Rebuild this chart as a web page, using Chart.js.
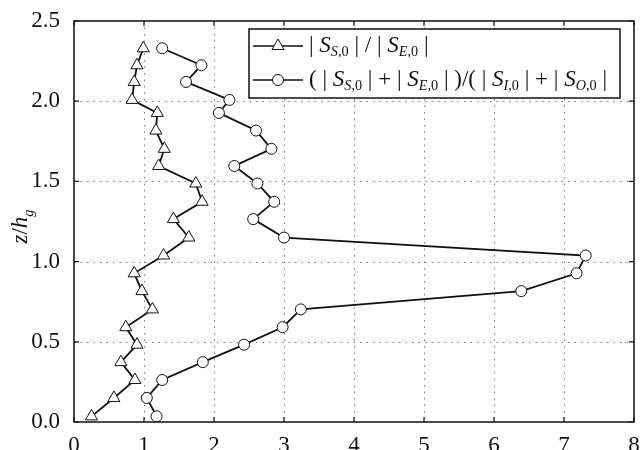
<!DOCTYPE html>
<html>
<head>
<meta charset="utf-8">
<script src="https://cdn.jsdelivr.net/npm/chart.js@4"></script>
<style>
  html, body { margin: 0; padding: 0; background: #fff; }
  #wrap { width: 644px; height: 450px; position: relative; }
  #chart { position: absolute; left: 0; top: 0; }
  .preload { position: absolute; left: 0; top: 0; color: transparent;
             font: 23px "Liberation Serif"; white-space: nowrap; }
</style>
</head>
<body>
<div id="wrap">
  <div class="preload">2.5 z/h <i>S z/h g</i></div>
  <canvas id="chart" width="644" height="450"></canvas>
</div>
<script>
// heights z/h_g shared by both profiles
const zLevels = [0.035, 0.15, 0.262, 0.373, 0.482, 0.591, 0.702, 0.816, 0.927, 1.038, 1.15,
                 1.265, 1.373, 1.487, 1.596, 1.703, 1.817, 1.927, 2.008, 2.12, 2.224, 2.33];
// |S_S,0| / |S_E,0|
const ratioSE = [0.25, 0.57, 0.87, 0.67, 0.90, 0.74, 1.12, 0.97, 0.86, 1.28, 1.64,
                 1.42, 1.83, 1.74, 1.21, 1.29, 1.17, 1.19, 0.83, 0.86, 0.90, 0.99];
// (|S_S,0|+|S_E,0|)/(|S_I,0|+|S_O,0|)
const ratioSum = [1.18, 1.04, 1.26, 1.84, 2.43, 2.98, 3.24, 6.39, 7.18, 7.31, 3.0,
                  2.56, 2.86, 2.62, 2.29, 2.82, 2.6, 2.07, 2.22, 1.6, 1.82, 1.26];
const xTicks = [0, 1, 2, 3, 4, 5, 6, 7, 8];
const yTicks = [0, 0.5, 1.0, 1.5, 2.0, 2.5];

// legend labels as rich text segments (i = italic, s = subscript)
const legendLabels = [
  [{t: '| '}, {t: 'S', i: 1}, {t: 'S', i: 1, s: 1}, {t: ',0', s: 1}, {t: ' | / | '},
   {t: 'S', i: 1}, {t: 'E', i: 1, s: 1}, {t: ',0', s: 1}, {t: ' |'}],
  [{t: '( | '}, {t: 'S', i: 1}, {t: 'S', i: 1, s: 1}, {t: ',0', s: 1}, {t: ' | + | '},
   {t: 'S', i: 1}, {t: 'E', i: 1, s: 1}, {t: ',0', s: 1}, {t: ' | )/( | '},
   {t: 'S', i: 1}, {t: 'I', i: 1, s: 1}, {t: ',0', s: 1}, {t: ' | + | '},
   {t: 'S', i: 1}, {t: 'O', i: 1, s: 1}, {t: ',0', s: 1}, {t: ' |'}]
];
const yTitle = [{t: 'z', i: 1}, {t: '/'}, {t: 'h', i: 1}, {t: 'g', i: 1, s: 1}];

const FONT = '"Liberation Serif"';

function drawRich(ctx, x, y, segs, size) {
  let cx = x;
  segs.forEach(sg => {
    const sz = sg.s ? size * 0.62 : size;
    ctx.font = (sg.i ? 'italic ' : '') + sz + 'px ' + FONT;
    ctx.fillText(sg.t, cx, sg.s ? y + size * 0.28 : y);
    cx += ctx.measureText(sg.t).width;
  });
  return cx - x;
}

const decorPlugin = {
  id: 'decor',
  beforeDatasetsDraw(chart) {
    // dotted grid
    const ctx = chart.ctx;
    const a = chart.chartArea;
    const xs = chart.scales.x, ys = chart.scales.y;
    ctx.save();
    ctx.strokeStyle = '#777';
    ctx.lineWidth = 1;
    ctx.setLineDash([1.5, 5]);
    ctx.beginPath();
    xTicks.slice(1, -1).forEach(v => {
      const px = Math.round(xs.getPixelForValue(v)) + 0.5;
      ctx.moveTo(px, a.top); ctx.lineTo(px, a.bottom);
    });
    yTicks.slice(1, -1).forEach(v => {
      const py = Math.round(ys.getPixelForValue(v)) + 0.5;
      ctx.moveTo(a.left, py); ctx.lineTo(a.right, py);
    });
    ctx.stroke();
    ctx.restore();
  },
  afterDatasetsDraw(chart) {
    const ctx = chart.ctx;
    const a = chart.chartArea;
    const xs = chart.scales.x, ys = chart.scales.y;
    ctx.save();
    ctx.strokeStyle = '#111';
    ctx.lineWidth = 1.5;
    ctx.strokeRect(a.left, a.top, a.right - a.left, a.bottom - a.top);
    // inside ticks
    ctx.lineWidth = 1.2;
    ctx.beginPath();
    xTicks.forEach(v => {
      const px = xs.getPixelForValue(v);
      ctx.moveTo(px, a.bottom); ctx.lineTo(px, a.bottom - 5);
      ctx.moveTo(px, a.top); ctx.lineTo(px, a.top + 5);
    });
    yTicks.forEach(v => {
      const py = ys.getPixelForValue(v);
      ctx.moveTo(a.left, py); ctx.lineTo(a.left + 5, py);
      ctx.moveTo(a.right, py); ctx.lineTo(a.right - 5, py);
    });
    ctx.stroke();

    // y axis title, rotated
    ctx.fillStyle = '#111';
    ctx.textBaseline = 'alphabetic';
    ctx.translate(27, (a.top + a.bottom) / 2 + 22);
    ctx.rotate(-Math.PI / 2);
    drawRich(ctx, 0, 0, yTitle, 23);
    ctx.restore();

    // legend box
    ctx.save();
    const bx = 249, by = 29, bw = 371, bh = 69;
    ctx.fillStyle = '#fff';
    ctx.fillRect(bx, by, bw, bh);
    ctx.strokeStyle = '#111';
    ctx.lineWidth = 1.5;
    ctx.strokeRect(bx, by, bw, bh);
    const rows = [46, 80];
    chart.data.datasets.forEach((ds, k) => {
      const ry = rows[k];
      ctx.strokeStyle = '#111';
      ctx.lineWidth = 1.6;
      ctx.beginPath();
      ctx.moveTo(bx + 4, ry); ctx.lineTo(bx + 54, ry);
      ctx.stroke();
      ctx.fillStyle = '#fff';
      ctx.lineWidth = 1;
      Chart.helpers.drawPoint(ctx, {
        pointStyle: ds.pointStyle, radius: ds.pointRadius, borderWidth: 1
      }, bx + 29, ry);
      ctx.fillStyle = '#111';
      ctx.textBaseline = 'middle';
      drawRich(ctx, bx + 60, ry, legendLabels[k], 23);
    });
    ctx.restore();
  }
};

function build() {
  new Chart(document.getElementById('chart'), {
    type: 'scatter',
    data: {
      datasets: [
        {
          label: '|SS,0|/|SE,0|',
          data: zLevels.map((z, i) => ({x: ratioSE[i], y: z})),
          showLine: true,
          borderColor: '#111',
          borderWidth: 1.8,
          pointStyle: 'triangle',
          pointRadius: 7,
          pointBackgroundColor: '#fff',
          pointBorderColor: '#111',
          pointBorderWidth: 1
        },
        {
          label: '(|SS,0|+|SE,0|)/(|SI,0|+|SO,0|)',
          data: zLevels.map((z, i) => ({x: ratioSum[i], y: z})),
          showLine: true,
          borderColor: '#111',
          borderWidth: 1.8,
          pointStyle: 'circle',
          pointRadius: 5.5,
          pointBackgroundColor: '#fff',
          pointBorderColor: '#111',
          pointBorderWidth: 1
        }
      ]
    },
    options: {
      responsive: false,
      animation: false,
      layout: { padding: { top: 21, right: 10, left: 0, bottom: 0 } },
      plugins: { legend: { display: false }, tooltip: { enabled: false } },
      scales: {
        x: {
          type: 'linear', min: 0, max: 8,
          afterFit: s => { s.height = 28; },
          afterBuildTicks: s => { s.ticks = xTicks.map(v => ({value: v})); },
          grid: { display: false },
          border: { display: false },
          ticks: { color: '#111', padding: 2, font: { family: FONT, size: 23 } }
        },
        y: {
          type: 'linear', min: 0, max: 2.5,
          afterFit: s => { s.width = 74; },
          afterBuildTicks: s => { s.ticks = yTicks.map(v => ({value: v})); },
          grid: { display: false },
          border: { display: false },
          ticks: { color: '#111', padding: 6, font: { family: FONT, size: 23 },
                   callback: v => v.toFixed(1) }
        }
      }
    },
    plugins: [decorPlugin]
  });
}

document.fonts.ready.then(() => setTimeout(build, 30));
</script>
</body>
</html>
